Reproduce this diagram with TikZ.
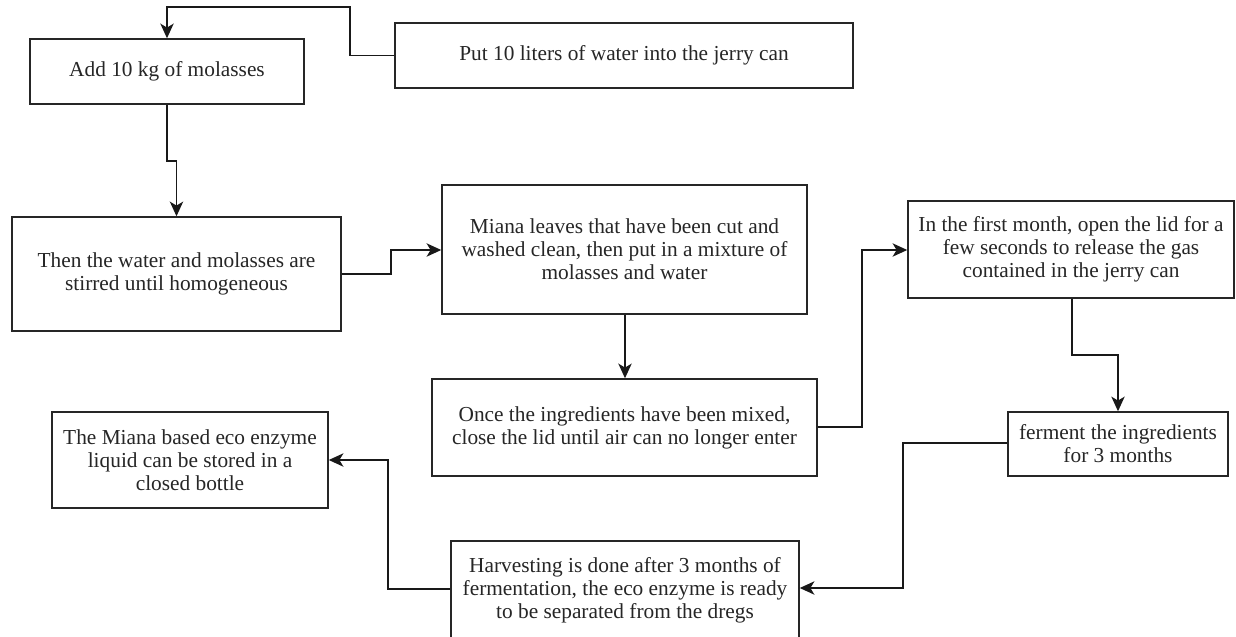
\documentclass[tikz,border=0pt]{standalone}
\usepackage{fontspec}
\setmainfont{Liberation Serif}
\usetikzlibrary{arrows.meta}
\tikzset{
  box/.style={draw=black!85, line width=1.1pt, fill=white, inner sep=0pt, align=center,
    font=\fontsize{16}{17.3}\selectfont, text=black!85},
  conn/.style={draw=black!90, line width=1.1pt, -{Stealth[length=11pt,width=10pt,inset=3pt]}},
}
\newcommand\bx[6]{\node[box, minimum width={(#4-#2)*0.75pt}, minimum height={(#5-#3)*0.75pt}] (#1) at ({(#2+#4)/2},{(#3+#5)/2}) {#6};}
\begin{document}
\begin{tikzpicture}[x=0.75pt,y=-0.75pt]
\useasboundingbox (0,0) rectangle (1236,636);
\bx{A}{30}{39}{304}{104}{Add 10 kg of molasses}
\bx{B}{395}{23}{853}{88}{Put 10 liters of water into the jerry can}
\bx{C}{12}{217}{341}{331}{Then the water and molasses are\\stirred until homogeneous}
\bx{D}{442}{185}{807}{314}{Miana leaves that have been cut and\\washed clean, then put in a mixture of\\molasses and water}
\bx{E}{432}{379}{817}{476}{Once the ingredients have been mixed,\\close the lid until air can no longer enter}
\bx{F}{908}{201}{1234}{298}{In the first month, open the lid for a\\few seconds to release the gas\\contained in the jerry can}
\bx{G}{1008}{412}{1228}{476}{ferment the ingredients\\for 3 months}
\bx{H}{451}{541}{799}{639}{Harvesting is done after 3 months of\\fermentation, the eco enzyme is ready\\to be separated from the dregs}
\bx{I}{52}{412}{328}{508}{The Miana based eco enzyme\\liquid can be stored in a\\closed bottle}

\draw[conn] (B.west) -- (350,55.5) -- (350,7) -- (167,7) -- (A.north);
\draw[conn] (A.south) -- (167,161) -- (176.5,161) -- (C.north);
\draw[conn] (C.east) -- (391,274) -- (391,250) -- (D.west |- 0,250);
\draw[conn] (D.south -| 625,0) -- (E.north -| 625,0);
\draw[conn] (E.east |- 0,427) -- (862,427) -- (862,250) -- (F.west |- 0,250);
\draw[conn] (F.south -| 1072,0) -- (1072,355) -- (1118,355) -- (G.north -| 1118,0);
\draw[conn] (G.west |- 0,443) -- (903,443) -- (903,588) -- (H.east |- 0,588);
\draw[conn] (H.west |- 0,589) -- (388,589) -- (388,460) -- (I.east |- 0,460);
\end{tikzpicture}
\end{document}
